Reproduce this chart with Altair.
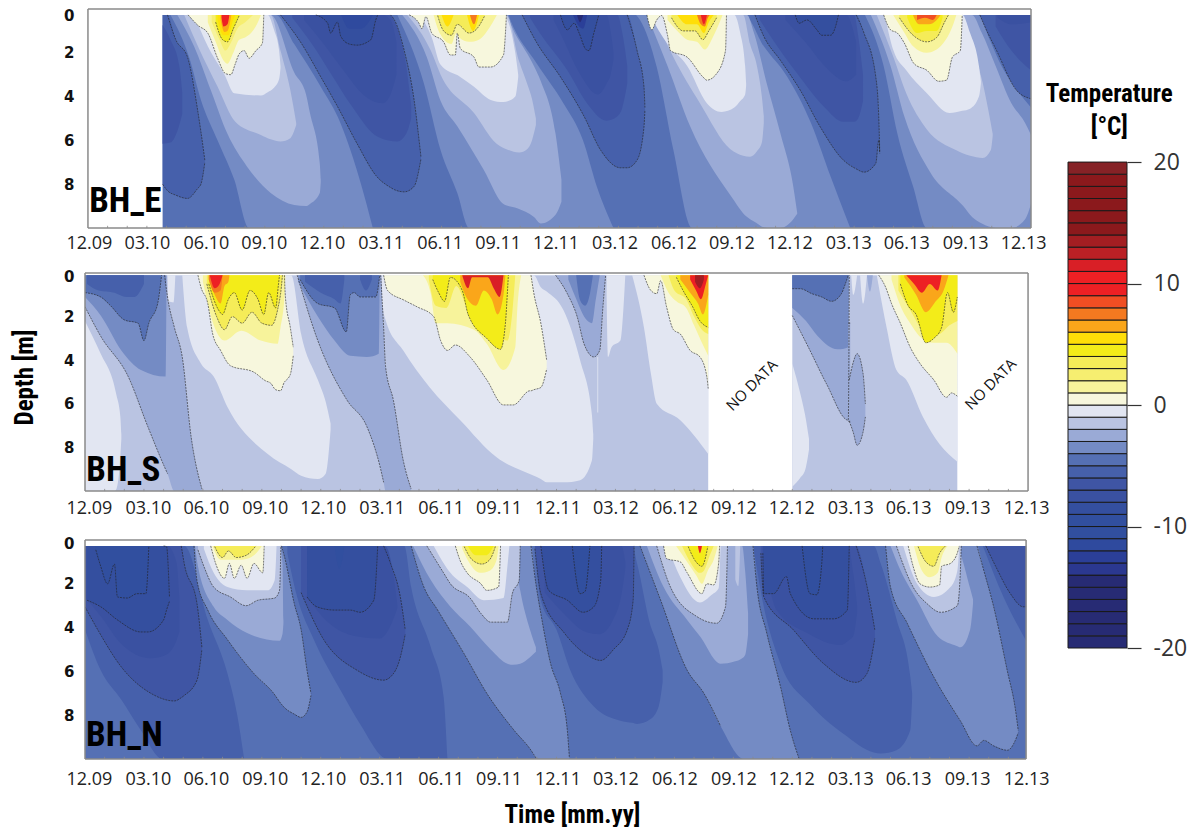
import json
import altair as alt
import pandas as pd

TICK_LABELS = ["12.09","03.10","06.10","09.10","12.10","03.11","06.11","09.11","12.11","03.12","06.12","09.12","12.12","03.13","06.13","09.13","12.13"]
E_LABEL_POS = [0.05,3.0,6.0,8.95,11.9,14.9,17.9,20.85,23.8,26.8,29.8,32.75,35.7,38.7,41.65,44.65,47.6]
SN_LABEL_POS = [0.2,3.2,6.15,9.15,12.1,15.1,18.1,21.05,24.05,27,30,33,35.95,38.95,41.9,44.9,47.9]
E_DEPTH_POS = [0.3,2,4,6,8]
SN_DEPTH_POS = [0.18,2,4,6,8]
MONTHS = list(range(1,48))

# colour of each 1-degree class, from -20 upward
CLASS_COLORS = ["#272b74","#272b74","#272b74","#272b74","#272b74","#272b74","#2b3890","#2b3f98","#2f4a9e","#314f9f",
 "#314f9f","#344f9f","#3a51a1","#3f55a4","#4660ab","#5570b4","#748bc4","#9aaad6","#bac4e2","#e2e6f2",
 "#f7f7dd","#f7f39b","#f6ee70","#f5ec58","#f3ec19","#ffde08","#faa61a","#f47920","#f04e23","#ed2024",
 "#ed2024","#d91f26","#bb2025","#a31e22","#8b191c","#8b191c","#8b191c","#8b191c","#8b191c","#862226"]

# (class lower bound, outlined, [(month, upper depth, lower depth), ...]) in painting order
E_REGIONS = [
(-5,0,[(3.8,.27,10),(48,.27,10)]),
(-4,0,[(4.2,.27,.27),(5.15,.27,2.2),(5.75,.27,4.15),(6.6,.27,6),(7.45,.27,7.8),(8.2,.27,10),(9.56,.27,10),(10.5,1.6,10),(11.85,3.55,10),(12.85,5.2,10),(13.9,8,10),(14.5,10,10)]),
(-3,0,[(4.55,.27,.27),(5.4,.27,1.7),(6.25,.27,3.7),(7.1,.27,5.7),(8.1,.27,7.2),(9.3,.27,8.4),(10.5,2.9,8.95),(11.1,3.9,9),(11.3,4.75,8.9),(11.8,7.05,8.4),(11.85,7.8,7.9)]),
(-2,0,[(4.9,.27,.27),(5.65,.27,1.8),(6.6,.27,3.55),(7.5,.27,5.15),(8.8,.27,5.75),(9.3,.27,5.95),(9.8,1.9,6.05),(10.3,3.7,5.9),(10.6,5.2,5.3)]),
(-1,0,[(5.4,.27,.27),(6.1,.27,1.7),(6.95,.27,3),(7.45,.27,3.85),(8.8,.27,3.95),(9.15,.27,3.8),(9.47,.95,3.6),(9.73,1.9,3.2),(9.8,2.6,2.7)]),
(0,1,[(5.1,.27,.27),(5.6,.27,.75),(6.1,.27,1.1),(6.6,.27,2.25),(7.0,.27,2.95),(7.27,.27,3),(7.5,.27,2.5),(7.7,.27,2.05),(7.95,.27,1.9),(8.2,.27,2.25),(8.55,.27,1.9),(8.88,.27,1.55),(8.95,.27,.27)]),
(1,0,[(6.1,.27,.6),(6.5,.27,1.5),(6.9,.27,2.35),(7.1,.27,2.5),(7.4,.27,2),(7.7,.27,1.4),(8,.27,1.3),(8.3,.27,1.1),(8.6,.27,.7),(8.8,.27,.27)]),
(2,0,[(6.3,.27,.6),(6.7,.27,1.4),(7,.27,1.9),(7.3,.27,1.5),(7.6,.27,.9),(8,.27,.6),(8.4,.27,.27)]),
(4,1,[(6.5,.27,.6),(6.85,.27,1.4),(7.1,.27,1.5),(7.4,.27,.9),(7.7,.27,.3)]),
(5,0,[(6.6,.27,.5),(6.9,.27,1.2),(7.15,.27,1.2),(7.35,.27,.6),(7.5,.27,.27)]),
(6,0,[(6.75,.27,.5),(6.95,.27,1.05),(7.1,.27,1),(7.3,.27,.27)]),
(9,0,[(6.8,.27,.4),(6.9,.27,.8),(7.1,.27,.7),(7.2,.27,.27)]),
(-6,1,[(3.8,.27,8),(4.05,.27,8.3),(4.47,1.4,8.5),(5.07,2.2,8.65),(5.58,4.6,8.2),(5.75,5.6,8),(5.95,6.9,7)]),
(-7,0,[(3.8,.73,6.15),(4.2,1.4,6.1),(4.65,2.6,5.3),(4.8,3.8,4.8)]),
(-6,1,[(9.8,.27,.27),(10.85,.27,1.55),(11.85,.27,3.1),(12.7,.27,4.45),(13.7,.27,6.15),(14.7,.27,7.65),(15.4,.27,8.15),(15.6,.5,8.25),(16.1,1.9,8.35),(16.6,4.15,8.1),(16.95,6.75,6.85)]),
(-7,0,[(10.4,.27,.4),(11.4,.27,1.6),(12.4,.27,3),(13.4,.27,4.4),(14.6,.27,5.75),(15.3,.27,6),(15.75,.9,6.05),(16.2,2.6,5.7),(16.45,4.4,5)]),
(-8,0,[(11,.27,.5),(12,.27,1.6),(13,.27,2.8),(14,.27,3.9),(15,.27,4.3),(15.4,.5,3.9),(15.7,1.5,3)]),
(-9,1,[(11.6,.27,.27),(12.2,.27,.65),(12.35,.27,1.1),(12.7,.27,.6),(12.87,.27,1.25),(13.3,.27,1.6),(13.7,.27,1.65),(14.4,.27,1.4),(14.65,.27,.5),(14.75,.27,.27)]),
(-12,0,[(12.9,.27,.3),(13.3,.27,.9),(13.9,.27,.9),(14.5,.27,.3)]),
(-4,0,[(15.75,.27,.27),(17.1,.27,3.4),(17.95,.27,6.45),(18.8,.27,8.4),(19.4,.27,10),(21.4,.27,10),(21.5,.5,10),(22.85,2.5,10),(24.2,4.3,10),(25.2,6,10),(25.9,8.1,10),(26.75,10,10)]),
(-3,0,[(16,.27,.27),(17.25,.27,2.2),(17.95,.27,4.2),(18.8,.27,5.35),(20.15,.27,7.35),(21.15,.27,8.9),(21.85,1.3,9.1),(22.7,2.6,9.5),(23.05,3.3,9.8),(23.8,5.7,9.4),(24.1,7.8,8.8)]),
(-2,0,[(16.25,.27,.27),(17.45,.27,1.9),(17.95,.27,3),(19.65,.27,4.75),(20.8,.27,6.15),(21.3,.27,6.4),(21.95,2.4,6.55),(22.35,3.4,6.4),(22.6,4.1,6),(22.8,5,5.3)]),
(-1,0,[(16.9,.27,.27),(17.5,.27,1.3),(17.95,.27,2.55),(18.95,.27,3.1),(19.65,.27,3.55),(20.5,.27,4.15),(21.15,.27,4.25),(21.4,.6,4.2),(21.75,2,4),(21.9,3,3.1)]),
(0,1,[(16.35,.27,.27),(16.85,.27,.65),(17,.27,.9),(17.2,.27,.35),(17.5,.27,1.1),(18.1,.27,1.5),(18.45,.27,2.1),(18.7,.27,2.1),(18.8,.27,1.1),(18.95,.27,1.8),(19.65,.27,2.2),(19.9,.27,2.65),(20.5,.27,2.65),(21.15,.27,2.1),(21.25,.27,1.1),(21.3,.27,.27)]),
(1,0,[(17.6,.27,.3),(17.9,.27,1.1),(18.5,.27,1.6),(18.75,.27,1.1),(18.9,.27,1.3),(19.4,.27,1.5),(19.9,.27,1.4),(20.4,.27,.9),(20.8,.27,.3)]),
(3,1,[(17.8,.27,.3),(18.1,.27,1),(18.5,.27,1.2),(18.8,.27,.7),(19.4,.27,1.1),(19.8,.27,.9),(20.2,.27,.3)]),
(5,0,[(18.0,.27,.27),(18.3,.27,.8),(18.6,.27,.3)]),
(5,0,[(19.3,.27,.3),(19.6,.27,1),(19.9,.27,.3)]),
(7,0,[(19.45,.27,.3),(19.65,.27,.7),(19.8,.27,.3)]),
(-6,1,[(22.1,.27,.27),(22.85,.27,1.55),(24.05,.27,3.1),(25.25,.27,4.9),(26.1,.27,6.45),(27.1,.27,7.25),(27.45,.27,7.25),(27.95,1.9,6.9),(28.3,3.55,5.4),(28.35,4.5,4.6)]),
(-7,0,[(22.5,.27,.4),(23,.27,1.1),(24.4,.27,2.8),(25.4,.27,4.3),(26.4,.27,5.1),(26.95,.27,4.9),(27.2,1.1,4.5),(27.45,2.6,3.4)]),
(-8,0,[(23.7,.27,.5),(24.2,.27,1.4),(25,.27,2.9),(25.95,.27,3.9),(26.4,.27,3.4),(26.6,1,3),(26.75,2,2.3)]),
(-9,1,[(24.05,.27,.27),(24.4,.27,.95),(24.75,.27,.65),(25,.27,1.1),(25.35,.27,1.85),(25.5,.27,1.9),(25.75,.27,1.1),(26,.27,.27)]),
(-13,0,[(24.7,.27,.3),(25,.27,.8),(25.2,.27,.9),(25.4,.27,.3)]),
(-18,0,[(24.9,.27,.3),(25.05,.27,.6),(25.2,.27,.3)]),
(-4,0,[(27.9,.27,.27),(28.1,.27,.5),(28.95,.27,2.65),(29.8,.27,6.45),(30.75,.27,10),(33.4,.27,10),(34.4,1.7,10),(35.6,3.1,10),(36.8,5.2,10),(37.8,7.65,10),(38.8,10,10)]),
(-3,0,[(28.45,.27,.27),(29.5,.27,2.6),(30.65,.27,5.35),(32.7,.27,8.5),(33.55,.27,9.5),(33.9,1.1,9.7),(34.55,3.4,10),(35.25,5.7,10),(35.9,8.1,9.6),(36.1,9.3,9.35)]),
(-2,0,[(28.8,.27,.27),(29.8,.27,2.2),(31.15,.27,4.3),(32.7,.27,6.4),(33.35,.27,6.7),(33.7,1.6,6.75),(34.05,2.6,6.5),(34.3,4,6.1),(34.4,4.9,5.2)]),
(-1,0,[(28.6,.27,.27),(29.5,.27,1.6),(30.5,.27,2.6),(31.5,.27,4.3),(32.25,.27,4.7),(32.9,.27,4.5),(33.2,1.1,4.2),(33.45,2.6,3.9),(33.5,3.4,3.5)]),
(0,1,[(28.45,.27,.27),(28.7,.27,.95),(28.95,.27,.5),(29.2,.27,.3),(29.5,.27,1.2),(29.65,.27,1.9),(30.5,.27,2.2),(31.3,.27,3.1),(31.5,.27,3.25),(32,.27,2.95),(32.45,.27,1.9),(32.5,.27,.27)]),
(1,0,[(29.5,.27,.5),(30,.27,1),(30.5,.27,1.4),(31,.27,1.5),(31.4,.27,1.85),(31.8,.27,1.3),(32.2,.27,.5),(32.3,.27,.27)]),
(3,1,[(29.7,.27,.4),(30.3,.27,1),(30.9,.27,1),(31.3,.27,1.4),(31.6,.27,1),(32,.27,.4)]),
(5,0,[(30,.27,.27),(30.5,.27,.7),(31,.27,.7),(31.35,.27,1.1),(31.6,.27,.6),(31.85,.27,.27)]),
(7,0,[(31,.27,.27),(31.2,.27,.7),(31.4,.27,.8),(31.55,.27,.4),(31.65,.27,.27)]),
(9,0,[(31.2,.27,.3),(31.35,.27,.7),(31.5,.27,.3)]),
(-6,1,[(33.95,.27,.27),(34.4,.27,1.25),(35.25,.27,2.35),(36.25,.27,3.7),(37.25,.27,5.35),(38.45,.27,6.9),(39.1,.27,7.3),(39.5,1.1,7.45),(40.1,3.1,7.05),(40.25,4.9,6),(40.3,6.5,6.6)]),
(-7,0,[(34.2,.27,.5),(34.75,.27,1.25),(36.1,.27,2.95),(37.45,.27,4.45),(38.45,.27,5.15),(39,.27,5.15),(39.2,1.2,5),(39.45,3,4.2)]),
(-8,0,[(35.5,.27,.5),(36.5,.27,1.5),(37.5,.27,2.6),(38.6,.27,3.3),(39.1,1.5,3)]),
(-9,1,[(36,.27,.27),(36.2,.27,.65),(36.6,.27,.5),(37.1,.27,.95),(37.35,.27,1.2),(37.8,.27,1.2),(38.1,.27,.65),(38.2,.27,.27)]),
(-4,0,[(39.55,.27,.27),(40.5,.27,2.6),(41.2,.27,5.7),(42,.27,8.1),(42.7,.27,10),(45.3,.27,10),(45.9,1.4,10),(46.5,2.6,10),(47.2,3.6,10),(48,4.5,10)]),
(-3,0,[(39.85,.27,.27),(40.85,.27,2.6),(41.55,.27,4.9),(42.9,.27,7.5),(44.55,.27,9),(45,.27,9.5),(45.5,1.1,9.8),(46.2,2.6,10),(47,4.3,10),(47.7,5.2,9.6),(48,5.75,8.9)]),
(-2,0,[(40.15,.27,.27),(41,.27,2.2),(41.65,.27,3.85),(42.7,.27,5.5),(44.2,.27,6.45),(44.55,.27,6.6),(44.9,1.4,6.7),(45.55,3.4,6.8),(45.95,5.2,6.45),(46.05,5.7,5.8)]),
(-1,0,[(40.55,.27,.27),(41,.27,1.9),(41.65,.27,2.8),(42.7,.27,3.85),(43.85,.27,4.75),(44.5,.27,4.65),(44.9,1.1,4.55),(45.35,2.6,4),(45.45,3.3,3.4)]),
(0,1,[(40.5,.27,.27),(40.85,.27,.95),(41.2,.27,1.1),(41.55,.27,1.55),(42.05,.27,2.5),(42.7,.27,2.8),(43.3,.27,3.3),(43.7,.27,3.25),(44,.27,2.2),(44.4,.27,1.9),(44.5,.27,.27)]),
(1,0,[(41,.27,.3),(41.5,.27,1),(42,.27,1.7),(42.7,.27,2),(43.1,.27,1.9),(43.5,.27,1.6),(44,.27,.8),(44.2,.27,.27)]),
(3,1,[(41.3,.27,.4),(42,.27,1.2),(42.7,.27,1.5),(43.2,.27,1.3),(43.6,.27,.6),(43.8,.27,.27)]),
(4,0,[(41.7,.27,.4),(42.2,.27,1.1),(42.7,.27,1),(43.2,.27,1),(43.5,.27,.4)]),
(6,0,[(42,.27,.3),(42.3,.27,.7),(42.8,.27,.7),(43.2,.27,.5),(43.4,.27,.27)]),
(8,0,[(42.2,.27,.5),(42.6,.27,.4),(43,.27,.5),(43.2,.27,.27)]),
(-6,1,[(45.4,.27,.27),(45.65,.27,.8),(46.25,.27,1.9),(47.25,.27,3.7),(48,.27,4.1)]),
(-7,0,[(46.2,.27,.8),(47,.27,1.9),(48,.27,2.8)]),
(-8,0,[(46.3,.27,.4),(47,.27,.7),(48,.27,.6)]),
]

S_REGIONS = [
(-2,0,[(0,.1,10),(31.72,.1,10)]),
(-2,0,[(36,.1,10),(44.4,.1,10)]),
(-1,0,[(0,2.2,10),(.8,3.7,10),(1.5,5.2,10),(1.6,5.6,9.9),(1.8,6.6,8.4),(1.85,7.4,7.6)]),
(-3,1,[(0,.1,1.55),(.8,.1,2.9),(2.2,.1,4.75),(3.2,.1,7.05),(4.05,.1,8.9),(4.2,1.1,9.2),(4.55,2.5,10),(4.95,3.85,10),(5.4,7.5,10),(5.95,9.9,10)]),
(-4,0,[(0,.1,1.1),(.8,.1,1.95),(1.85,.1,3.55),(2.85,.1,4.45),(4.1,.1,4.75),(4.15,.1,.1)]),
(-5,1,[(0,.1,.9),(.8,.1,1.1),(1.3,.1,1.5),(2,.1,2.15),(2.7,.1,2.3),(3,.1,3.1),(3.25,.1,2.3),(3.7,.1,1.4),(3.9,.1,.1)]),
(-6,0,[(.1,.1,.5),(.7,.1,.8),(1.5,.1,.9),(2.1,.1,1.1),(2.5,.1,1.1),(3,.1,.5)]),
(-1,0,[(4.2,.1,.1),(4.25,.1,1.3),(4.5,.1,1.35),(4.6,.1,.1)]),
(-1,0,[(4.95,.1,.1),(5.2,.1,2.5),(5.9,.1,4.15),(6.55,.1,4.75),(7.25,.1,6.15),(9.3,.1,8.3),(10.5,.1,9),(11,2.8,9.3),(11.85,4.9,9.45),(12.25,5.9,9.2),(12.5,6.9,7.2)]),
(0,1,[(5.75,.1,.1),(5.9,.1,.65),(6.25,.1,1.4),(6.5,.1,2.8),(6.9,.1,3.55),(7.4,.1,4.25),(8.6,.1,4.55),(9.2,.1,4.95),(9.45,.1,5.05),(9.7,.1,5.35),(9.95,.1,5.4),(10.15,.1,5),(10.2,1.1,4.95),(10.45,2.5,4.65),(10.6,3.4,3.8)]),
(1,0,[(6,.1,.4),(6.6,.1,2.5),(7.1,.1,3.1),(7.95,.1,2.65),(8.95,.1,3.1),(9.8,.1,3.25),(9.95,.1,2.5),(10.15,.1,1.1),(10.2,.1,.1)]),
(3,1,[(6.2,.1,.5),(6.7,.1,2),(7.1,.1,2.6),(7.5,.1,2),(8,.1,2.3),(8.5,.1,1.8),(9,.1,2.3),(9.5,.1,2.4),(9.8,.1,1.7),(10,.1,.6),(10.05,.1,.1)]),
(4,1,[(6.3,.1,.5),(6.8,.1,1.7),(7,.1,1.9),(7.3,.1,1.2),(7.6,.1,.9),(8,.1,1.7),(8.4,.1,.8),(8.8,.1,1.2),(9.1,.1,1.9),(9.35,.1,.9),(9.7,.1,1.6),(9.85,.1,.5),(9.9,.1,.1)]),
(6,0,[(6.3,.1,.3),(6.6,.1,1),(6.9,.1,1.4),(7.1,.1,.6),(7.3,.1,.4),(7.35,.1,.1)]),
(7,0,[(6.3,.1,.3),(6.6,.1,.9),(6.9,.1,.8),(7,.1,.1)]),
(9,0,[(6.35,.1,.1),(6.6,.1,.7),(6.85,.1,.5),(7,.1,.1)]),
(-3,1,[(10.8,.1,.1),(11.85,.1,3.1),(13.35,.1,5.85),(14.35,.1,7.05),(15.05,.1,9),(15.2,2.5,9.6),(15.3,4.3,10),(15.7,5.85,10),(16.2,8.6,10),(16.6,9.9,10)]),
(-4,0,[(10.85,.1,.4),(11.85,.1,2),(12.7,.1,3.1),(13.5,.1,3.8),(14.35,.1,3.85),(14.95,.1,3.7),(15,.1,.1)]),
(-5,1,[(10.95,.1,.3),(11.85,.1,1.4),(12.7,.1,1.6),(13.3,.1,2.7),(13.5,.1,1),(13.7,.1,.9),(14,.1,1.1),(14.8,.1,1.1),(15,.1,.1)]),
(-6,0,[(11.2,.1,.4),(12,.1,.9),(12.7,.1,1.2),(13,.1,1.4),(13.2,.1,.3)]),
(-6,0,[(14,.1,.3),(14.3,.1,.8),(14.6,.1,.3)]),
(-1,0,[(15.1,.1,.1),(15.15,.1,1.5),(15.3,.1,2.15),(16.2,.1,3.55),(17.55,.1,5.25),(19.1,.1,6.75),(20.95,.1,8.45),(22.85,.1,9.3),(23.2,.65,9.45),(23.5,.85,9.6),(24.35,1.7,9.6),(25.2,4,9.5),(25.8,6.5,8.6),(25.87,7.4,7.6)]),
(0,1,[(15.2,.1,.1),(15.4,.1,.8),(16.25,.1,1.25),(16.9,.1,1.55),(17.75,.1,2),(18.1,.1,3.1),(18.45,.1,3.55),(18.85,.1,3.3),(19.6,.1,3.85),(20.45,.1,4.9),(21.3,.1,6.05),(21.8,.1,6.05),(22.65,.1,5.4),(22.7,.1,5.4),(22.85,.95,5.35),(23.2,2.3,5.25),(23.5,4,4.4)]),
(1,0,[(17.2,.1,.1),(17.6,.1,.95),(17.85,.1,2.3),(18.45,.1,2.3),(19.8,.1,2.6),(20.45,.1,3.25),(21.3,.1,4.45),(21.9,.1,3.4),(22,.1,1.7),(22.2,.1,.1)]),
(3,0,[(17.5,.1,.3),(17.85,.1,1.5),(18.4,.1,1.6),(18.9,.1,.6),(19.4,.1,1.5),(20,.1,2.1),(20.5,.1,2.5),(21,.1,2.9),(21.5,.1,3.1),(21.75,.1,1.8),(21.9,.1,.1)]),
(4,1,[(17.7,.1,.3),(18,.1,.9),(18.3,.1,1.3),(18.6,.1,.2),(19.2,.1,.8),(19.5,.1,1.9),(20.45,.1,3),(21.15,.1,3.5),(21.4,.1,2.3),(21.5,.1,.9),(21.55,.1,.1)]),
(6,0,[(19.1,.1,.4),(19.4,.1,1.1),(19.9,.1,1.5),(20.3,.1,.8),(20.7,.1,1.2),(21,.1,1.9),(21.3,.1,1),(21.4,.1,.1)]),
(11,0,[(19.2,.1,.1),(19.5,.1,.7),(19.7,.1,.2),(20.5,.1,.2),(20.8,.1,.7),(21.1,.1,1.1),(21.3,.1,.1)]),
(-3,1,[(23.95,.1,.1),(24.55,.1,.95),(25.05,.1,2),(25.4,.1,3.25),(25.9,.1,3.85),(26.2,.1,3.55),(26.35,.1,1.7),(26.5,.1,.1)]),
(-4,0,[(24.6,.1,.3),(25.05,.1,1.3),(25.4,.1,2),(25.8,.1,2.3),(26,.1,1.2),(26.2,.1,.1)]),
(-5,0,[(25,.1,.1),(25.2,.1,1.25),(25.45,.1,1.5),(25.7,.1,.95),(25.85,.1,.1)]),
(-1,0,[(26.55,.1,1),(26.62,.1,3.85),(26.8,.1,3.4),(27.25,.1,3.1),(27.4,.1,1.7),(27.5,.1,.1)]),
(-1,0,[(26.08,3.85,6.4),(26.12,3.85,6.4)]),
(-1,0,[(27.85,.1,.1),(28.45,.1,2.5),(28.8,.1,4.6),(29.1,.1,6),(30.3,.1,6.75),(31.72,.1,8.3)]),
(0,1,[(28.45,.1,.1),(28.8,.1,.8),(29.1,.1,.95),(29.3,.1,.35),(29.6,.1,1.55),(29.95,.1,2.6),(30.3,.1,2.8),(30.8,.1,3.55),(31.3,.1,3.85),(31.65,.1,4.75),(31.72,.1,5.3)]),
(1,0,[(29.3,.1,.1),(29.7,.1,.9),(30.1,.1,1.3),(30.6,.1,1.6),(31,.1,2.4),(31.4,.1,3.2),(31.72,.1,3.8)]),
(3,0,[(29.7,.1,.1),(30,.1,.8),(30.6,.1,1.2),(31,.1,2),(31.4,.1,2.6),(31.72,.1,2.8)]),
(4,1,[(30.1,.1,.2),(30.5,.1,.9),(30.9,.1,1.5),(31.3,.1,2.2),(31.72,.1,2.5)]),
(6,0,[(30.3,.1,.3),(30.8,.1,.9),(31.2,.1,1.4),(31.45,.1,1.9),(31.72,.1,1)]),
(9,0,[(30.8,.1,.3),(31.1,.1,.8),(31.35,.1,1.2),(31.6,.1,.5),(31.72,.1,.1)]),
(13,0,[(31.05,.1,.4),(31.3,.1,.7),(31.5,.1,.3)]),
(-1,0,[(36,4.15,9.8),(36.4,5.5,9.4),(36.65,6.5,9.05),(36.85,7.6,8.1)]),
(-3,1,[(36,.1,1.95),(36.9,.1,3.55),(37.75,.1,5.1),(38.85,.1,6.75),(38.9,.1,.1)]),
(-4,0,[(36,.1,1.6),(36.7,.1,2.2),(37.3,.1,2.9),(38.3,.1,3.5),(38.85,.1,3.4),(38.88,.1,.1)]),
(-5,1,[(36,.1,.72),(36.4,.1,.72),(37,.1,.95),(37.5,.1,1.1),(38,.1,1.3),(38.5,.1,.95),(38.7,.1,.5),(38.85,.1,.1)]),
(-3,1,[(38.9,4.9,6.8),(39.1,4.1,7.3),(39.3,3.7,7.9),(39.6,4.6,7.3),(39.72,6,6.6)]),
(-3,1,[(38.85,2.3,6.8),(38.95,2.3,6.8)]),
(-1,0,[(39,.1,.1),(39.1,.1,1),(39.3,.1,.1)]),
(-1,0,[(39.45,.1,.1),(39.6,.1,1.4),(39.8,.1,.1)]),
(-3,0,[(39.8,.1,.1),(39.95,.1,.85),(40.1,.1,.1)]),
(-1,0,[(40.3,.1,.1),(40.8,.1,2.5),(41.3,.1,4.45),(41.8,.1,4.9),(42.65,.1,6.6),(43.5,.1,7.85),(44.4,.1,8.65)]),
(0,1,[(40.4,.1,.1),(40.75,.1,.65),(41.05,.1,1.4),(41.5,.1,2.3),(42,.1,3.4),(42.5,.1,4.15),(43.2,.1,4.9),(43.85,.1,5.7),(44.1,.1,5.5),(44.4,.1,5.65)]),
(1,0,[(41.05,.1,.3),(41.5,.1,1.5),(42,.1,2.3),(42.6,.1,3),(43.2,.1,3.2),(43.85,.1,3.2),(44.4,.1,3.7)]),
(3,0,[(41.4,.1,.8),(42,.1,1.7),(42.6,.1,2.6),(43,.1,2.9),(43.5,.1,2.8),(44,.1,2.4),(44.4,.1,2.2)]),
(4,1,[(41.5,.1,.5),(41.9,.1,1.5),(42.3,.1,1.9),(42.8,.1,3.2),(43.2,.1,3),(43.6,.1,2.5),(43.9,.1,.9),(44.2,.1,1.8),(44.4,.1,1.1)]),
(6,0,[(41.7,.1,.2),(42.3,.1,1),(42.8,.1,1.8),(43.3,.1,1.3),(43.7,.1,.8),(43.95,.1,.1)]),
(9,0,[(41.8,.1,.1),(42.2,.1,.5),(42.6,.1,.9),(43,.1,.5),(43.4,.1,.8),(43.6,.1,.1)]),
]

N_REGIONS = [
(-5,0,[(0,.27,10),(47.9,.27,10)]),
(-6,0,[(0,.27,4.1),(.8,.27,5.95),(1.85,.27,7.3),(2.85,.27,8.7),(3.95,.27,10),(5.05,.27,10),(6.25,3.65,10),(7.25,6.1,10),(7.75,8,10),(8.1,10,10)]),
(-7,1,[(0,.27,3.05),(.65,.27,4.1),(1.85,.27,5.8),(3.35,.27,7),(4.55,.27,7.35),(4.9,.27,7.2),(5.05,1.07,7.1),(5.7,2.9,6.4),(5.95,4.9,5)]),
(-8,0,[(0,.27,2.6),(.9,.27,3.6),(1.8,.27,4.7),(3.35,.27,5.4),(4.2,.27,5.2),(4.65,1,4.6),(4.8,2.6,4.2)]),
(-9,1,[(.1,.27,2.75),(.8,.27,3.05),(1.65,.27,3.65),(2.85,.27,4.2),(3.2,.27,4.2),(4,.27,3.65),(4.15,.3,3.2),(4.3,2.6,2.8)]),
(-10,1,[(.55,.27,.45),(.8,.27,1.2),(1.15,.27,2),(1.5,.27,1.1),(1.65,.27,2.6),(2.15,.27,2.65),(2.65,.27,2.45),(3.1,.27,2.45),(3.25,.27,.27)]),
(-4,1,[(5.55,.27,.27),(5.7,.27,1.85),(6.25,.27,3.2),(7.25,.27,4.55),(8.6,.27,6.1),(9.6,.27,7),(10,.27,7.5),(10.15,.75,7.65),(10.65,2.9,7.95),(11,4.1,8.1),(11.3,5.95,7.85),(11.5,7,7.1)]),
(-3,0,[(5.6,.27,.27),(5.75,.27,1.2),(6.55,.27,3.05),(7.25,.27,3.65),(8.25,.27,4.25),(9.9,.27,4.6),(10.05,1,4.3),(10.1,3.7,3.8)]),
(-2,1,[(5.75,.27,.45),(6.05,.27,1.2),(6.55,.27,2.15),(7.4,.27,2.6),(8.2,.27,3),(8.8,.27,2.75),(9.65,.27,2.65),(9.9,.27,2.3),(9.97,.27,.27)]),
(-1,0,[(6.05,.27,.4),(6.55,.27,1.5),(7.25,.27,2.15),(8.25,.27,2.3),(9.3,.27,2.3),(9.65,.27,1.85),(9.75,.27,.27)]),
(0,1,[(6.4,.27,.27),(6.65,.27,1.07),(7.1,.27,1.75),(7.35,.27,1.07),(7.6,.27,1.75),(7.95,.27,1.15),(8.25,.27,1.75),(8.6,.27,1.07),(9.05,.27,1.5),(9.12,.27,.27)]),
(1,0,[(6.5,.27,.3),(6.9,.27,.9),(7.4,.27,.9),(8,.27,.9),(8.6,.27,.7),(9,.27,.27)]),
(3,1,[(6.6,.27,.3),(7,.27,.8),(7.3,.27,.5),(7.7,.27,.8),(8.2,.27,.7),(8.7,.27,.27)]),
(-6,0,[(10.3,.27,.6),(10.8,.27,2.6),(11.65,.27,4.55),(13,.27,6.85),(14,.27,8.4),(15.4,.27,10),(16.25,.27,10),(16.6,2.15,10),(17.6,4.9,10),(18.25,7.15,10),(18.45,10,10)]),
(-7,1,[(11,.27,2.4),(12.15,.27,4.55),(13.85,.27,5.95),(15.2,.27,6.4),(15.55,1.07,6.25),(16.05,2.6,5.35),(16.3,4.1,4.3)]),
(-8,0,[(11.3,.27,2.6),(12.3,.27,3.7),(13.8,.27,4.4),(15,.27,4.5),(15.3,.3,4.3),(15.7,1.6,3.6),(15.9,3,3.1)]),
(-9,1,[(11.3,.27,2.6),(11.8,.27,3.05),(12.7,.27,3.2),(13.5,.27,3.2),(14,.27,3.3),(14.7,.27,2.75),(14.9,.27,.27)]),
(-10,0,[(12.7,.27,.27),(12.95,.27,1.3),(13.2,.27,.27)]),
(-4,1,[(16.6,.27,.27),(17.25,.27,2.15),(17.95,.27,3.2),(19.3,.27,5.2),(20.45,.27,7),(21.85,.27,8.7),(22.7,.27,9.6),(22.95,2,9.95),(23.2,3.35,10),(23.7,5.65,10),(24.2,7,10),(24.55,8.7,10),(24.65,9.9,10)]),
(-3,0,[(16.7,.27,.27),(17.6,.27,1.83),(18.6,.27,3.05),(19.6,.27,3.95),(20.65,.27,5),(21.5,.27,5.65),(21.8,.27,5.7),(22.15,2.3,5.65),(22.65,4.1,5.35),(22.95,4.9,5.1)]),
(-2,1,[(17.4,.27,.27),(18.25,.27,1.5),(18.6,.27,2),(19.6,.27,2.65),(20.15,.27,3.35),(20.65,.27,3.75),(21.5,.27,3.75),(21.75,.27,2.45),(22.1,.27,1.83),(22.15,.27,.27)]),
(-1,0,[(17.75,.27,.27),(18.6,.27,1.5),(19.45,.27,2.15),(20.3,.27,2.75),(21.3,.27,2.65),(21.5,.27,1.2),(21.6,.27,.27)]),
(0,1,[(18.85,.27,.27),(19.1,.27,.95),(19.45,.27,1.5),(20.15,.27,2),(20.45,.27,2.3),(21.05,.27,2.15),(21.15,.27,.27)]),
(1,0,[(19.2,.27,.4),(19.6,.27,1.1),(20.1,.27,1.5),(20.6,.27,1.4),(20.95,.27,.9),(21.05,.27,.27)]),
(3,1,[(19.3,.27,.3),(19.7,.27,.9),(20.2,.27,1.1),(20.6,.27,.9),(20.9,.27,.27)]),
(4,0,[(19.5,.27,.3),(19.9,.27,.7),(20.4,.27,.7),(20.8,.27,.27)]),
(-6,0,[(22.95,.27,.6),(23.2,.27,2.75),(24,.27,4.1),(24.7,.27,5.95),(25.9,.27,7.6),(27.25,.27,8.25),(27.85,.27,8.35),(28.1,1.07,8.4),(28.75,3.8,8.2),(29.2,5,7.6),(29.4,5.95,6.5)]),
(-7,1,[(22.9,.27,.4),(23.2,.27,2.45),(24.4,.27,4.25),(25.55,.27,5.25),(26.25,.27,5.5),(26.9,.27,5),(27.6,.27,4.1),(27.9,.27,2.75),(27.95,.27,.27)]),
(-8,0,[(23.4,.27,2.4),(24.3,.27,3.3),(25.5,.27,4.2),(26.2,.27,4.3),(26.9,.27,3.6),(27.3,.27,2.5),(27.5,1,1.3)]),
(-9,1,[(23.2,.27,.27),(23.6,.27,2.3),(24.55,.27,2.75),(25.35,.27,3.3),(25.9,.27,3.05),(26.25,.27,1.83),(26.3,.27,.27)]),
(-10,1,[(24.8,.27,.27),(25.2,.27,2.45),(25.45,.27,2.35),(25.7,.27,.27)]),
(-4,1,[(28.25,.27,.27),(29.3,.27,2.75),(30.65,.27,5.95),(31.5,.27,7),(32.35,.27,8.5),(33.55,.27,10),(34,.27,10),(34.2,2.15,10),(34.7,4.25,10),(35.4,6.7,10),(35.9,8.7,10),(36.35,10,10)]),
(-3,0,[(28.6,.27,.27),(29.45,.27,2.15),(30.65,.27,3.65),(31.3,.27,4.4),(32.35,.27,5.65),(33.05,.27,5.55),(33.45,.27,5.4),(33.6,1.4,5.25),(33.75,3.35,4.3)]),
(-2,1,[(29.1,.27,.27),(29.8,.27,2.15),(31.15,.27,3.5),(32.15,.27,3.8),(32.6,.27,3.05),(32.7,.27,.27)]),
(-2,0,[(33.1,.27,1.8),(33.25,.27,2.1),(33.35,.27,.27)]),
(-1,0,[(29.65,.27,.27),(30.3,.27,1.7),(31.3,.27,2.85),(31.9,.27,2.5),(32.25,.27,2.2),(32.35,.27,.27)]),
(0,1,[(29.45,.27,.27),(29.6,.27,.85),(30.3,.27,1),(30.65,.27,1.5),(31.4,.27,2.45),(31.65,.27,2),(32,.27,2.05),(32.25,.27,1.07),(32.3,.27,.27)]),
(1,0,[(30.1,.27,.3),(30.65,.27,1),(31.1,.27,1.6),(31.4,.27,2),(31.7,.27,1.4),(32,.27,.9),(32.2,.27,.27)]),
(3,0,[(30.4,.27,.3),(30.8,.27,1),(31.3,.27,1.5),(31.5,.27,1.4),(31.8,.27,.7),(32,.27,.27)]),
(4,1,[(30.7,.27,.3),(31.1,.27,1),(31.4,.27,1.2),(31.7,.27,.3)]),
(9,0,[(31.2,.27,.3),(31.3,.27,.6),(31.4,.27,.3)]),
(-6,0,[(34.05,.27,.5),(34.45,.27,2.6),(35.4,.27,5.65),(36.9,.27,7.5),(38.6,.27,8.85),(40.15,.27,9.7),(40.5,1.07,9.75),(41.3,3.6,9.6),(42,6.2,8.7),(42.1,7,7.2)]),
(-7,1,[(34.4,.27,.6),(34.55,.27,2.6),(36.05,.27,4.1),(37.6,.27,5.65),(39.25,.27,6.5),(39.8,2.1,6.1),(40.2,4.1,4.5)]),
(-8,0,[(34.6,.27,1),(35.2,.27,3.2),(36.75,.27,4.25),(38.45,.27,4.8),(38.85,.27,4.6),(39.1,1.5,4.4),(39.3,3,3.3)]),
(-9,1,[(34.5,.27,.6),(34.55,.27,2.45),(35.05,.27,2.45),(35.7,.27,1.67),(35.9,.27,2.45),(37.1,.27,3.6),(38.1,.27,3.6),(38.8,.27,3.2),(38.9,.27,.27)]),
(-10,1,[(36.5,.27,.27),(36.9,.27,2.45),(37.25,.27,2.5),(37.5,.27,1.07),(37.55,.27,.27)]),
(-4,1,[(40.75,.27,.27),(41,.27,2.15),(41.85,.27,3.8),(43.2,.27,6.25),(44.55,.27,8.25),(45.4,.27,9.4),(45.75,1.4,9.15),(46.25,3.05,9.4),(46.95,6,9.6),(47.35,7.7,9.15),(47.5,8.7,8.8)]),
(-3,0,[(41,.27,.27),(41.5,.27,1.37),(42.35,.27,2.75),(43.4,.27,4.4),(44.4,.27,4.85),(44.55,.6,4.9),(45.05,2.2,4.1),(45.2,2.7,2.9)]),
(-2,1,[(41.3,.27,.27),(42.15,.27,2.15),(42.85,.27,2.9),(43.55,.27,3.3),(44.4,.27,3),(44.55,.27,1.5),(44.6,.27,.27)]),
(-1,0,[(41.65,.27,.27),(42.35,.27,2),(43.2,.27,2.6),(44.05,.27,2.15),(44.4,.27,1.4),(44.5,.27,.27)]),
(0,1,[(41.9,.27,.27),(42.15,.27,1.2),(42.5,.27,2),(43,.27,2.15),(43.5,.27,2.05),(43.6,.27,1.2),(44.05,.27,1.07),(44.45,.27,.45),(44.5,.27,.27)]),
(1,0,[(42.2,.27,.3),(42.6,.27,1.4),(43,.27,1.7),(43.4,.27,1.5),(43.6,.27,.8),(43.9,.27,.27)]),
(3,1,[(42.4,.27,.3),(42.8,.27,1),(43.2,.27,1.2),(43.5,.27,.6),(43.8,.27,.27)]),
(-6,0,[(45.7,.27,.27),(46.75,.27,2.6),(47.9,.27,4.6)]),
(-7,1,[(45.85,.27,.27),(46.35,.27,1.2),(47.1,.27,2.45),(47.75,.27,3.05),(47.9,.27,3.05)]),
]

PANEL_NAMES = ["BH_E","BH_S","BH_N"]
NO_DATA = [(33.95,5.15),(46.1,5.1)]
COLORBAR_TICKS = [-20,-10,0,10,20]
FONT = "Open Sans"
NARROW = "'Roboto Condensed','Open Sans Condensed','Noto Sans Condensed','DejaVu Sans Condensed',Roboto,sans-serif"


def band_color(t):
    return CLASS_COLORS[t + 20]


def build(regions, surface):
    areas, lines = [], []
    for i, (t, outlined, pts) in enumerate(regions):
        for x, a, b in pts:
            areas.append({"r": i, "x": x, "a": a, "b": b, "c": band_color(t)})
        if outlined:
            low = [(x, b) for x, a, b in pts if b < 9.99]
            for x, y in low:
                lines.append({"r": f"b{i}", "x": x, "y": y})
            idx = [k for k, p in enumerate(pts) if p[1] > surface + .001]
            if idx:
                for x, a, b in pts[max(idx[0] - 1, 0):]:
                    lines.append({"r": f"t{i}", "x": x, "y": a})
    return pd.DataFrame(areas), pd.DataFrame(lines)


def panel(regions, surface, name, name_x, name_y, xdom, ymax, height, frame_r, label_pos, depth_pos, pad, ytitle=None, xtitle=None, notes=None):
    adf, ldf = build(regions, surface)
    xs = alt.Scale(domain=xdom, nice=False, zero=False)
    ys = alt.Scale(domain=[0, ymax], reverse=True, nice=False, zero=False)
    expr = json.dumps(TICK_LABELS) + "[round(datum.value/2.98)]"
    xax = alt.Axis(values=label_pos, labelExpr=expr, ticks=False, domain=False, grid=False, labelFont=FONT,
                   labelFontSize=18, labelColor="#222", labelPadding=pad, labelOverlap=False, labelFlush=False, labelBound=False,
                   titleFont=NARROW, titleFontSize=25, titleFontWeight="bold", titleColor="#000", titleX=487, titleY=43)
    yax = alt.Axis(values=depth_pos, labelExpr="round(datum.value)", ticks=False, domain=False, grid=False,
                   labelFont="DejaVu Sans", labelFontWeight="bold", labelFontSize=15, labelColor="#111", labelPadding=11,
                   titleFont=NARROW, titleFontSize=25, titleFontWeight="bold", titleColor="#000", titlePadding=26, titleY=104)
    px = alt.X("x:Q", scale=xs, title=xtitle)
    py = alt.Y("y:Q", scale=ys, title=ytitle)
    areas = alt.Chart(adf).mark_area(interpolate="monotone", clip=True).encode(
        x=alt.X("x:Q", scale=xs, axis=xax, title=xtitle), y=alt.Y("a:Q", scale=ys, axis=yax, title=ytitle),
        y2="b:Q", detail="r:N", fill=alt.Fill("c:N", scale=None))
    lines = alt.Chart(ldf).mark_line(interpolate="monotone", color="#222", strokeWidth=.7, strokeDash=[2, 1], opacity=.85, clip=True).encode(
        x=px, y=py, detail="r:N")
    fx = pd.DataFrame({"x": [0, frame_r], "y0": [0, 0], "y1": [10, 10]})
    frame_v = alt.Chart(fx).mark_rule(color="#8a8a8a", strokeWidth=1.5).encode(
        x=px, y=alt.Y("y0:Q", scale=ys, title=ytitle), y2="y1:Q")
    fy = pd.DataFrame({"y": [0, 10], "x0": [0, 0], "x1": [frame_r, frame_r]})
    frame_h = alt.Chart(fy).mark_rule(color="#8a8a8a", strokeWidth=1.5).encode(
        y=py, x=alt.X("x0:Q", scale=xs, title=xtitle), x2="x1:Q")
    mt = pd.DataFrame({"x": MONTHS, "y0": [9.9] * len(MONTHS), "y1": [10] * len(MONTHS)})
    mticks = alt.Chart(mt).mark_rule(color="#8a8a8a", strokeWidth=.8).encode(
        x=px, y=alt.Y("y0:Q", scale=ys, title=ytitle), y2="y1:Q")
    tag = alt.Chart(pd.DataFrame({"x": [name_x], "y": [name_y], "t": [name]})).mark_text(
        font=NARROW, fontWeight="bold", fontSize=35, color="#000").encode(x=px, y=py, text="t:N")
    layers = [areas, lines, frame_v, frame_h, mticks, tag]
    if notes:
        nd = pd.DataFrame({"x": [n[0] for n in notes], "y": [n[1] for n in notes], "t": ["NO DATA"] * len(notes)})
        layers.append(alt.Chart(nd).mark_text(font=FONT, fontSize=15, angle=315, color="#111").encode(x=px, y=py, text="t:N"))
    return alt.layer(*layers).properties(width=946, height=height)


p_e = panel(E_REGIONS, .27, PANEL_NAMES[0], 1.9, 8.75, [-0.15, 48], 10, 219, 48, E_LABEL_POS, E_DEPTH_POS, 6)
p_s = panel(S_REGIONS, .1, PANEL_NAMES[1], 1.95, 9.05, [0, 48.15], 10.18, 222, 48, SN_LABEL_POS, SN_DEPTH_POS, 4, ytitle="Depth [m]", notes=NO_DATA)
p_n = panel(N_REGIONS, .27, PANEL_NAMES[2], 2.0, 8.9, [0, 48.15], 10, 219, 47.9, SN_LABEL_POS, SN_DEPTH_POS, 11, xtitle="Time [mm.yy]")

left = alt.vconcat(p_e, p_s, p_n, spacing=45, bounds="flush")

cb_df = pd.DataFrame({"lo": list(range(-20, 20)), "hi": list(range(-19, 21)), "c": CLASS_COLORS, "x0": [0] * 40, "x1": [1] * 40})
cy = alt.Scale(domain=[-20, 32.6], nice=False, zero=False)
cx = alt.Scale(domain=[0, 1], nice=False)
cb_rect = alt.Chart(cb_df).mark_rect(stroke="#1a1a1a", strokeWidth=1).encode(
    x=alt.X("x0:Q", scale=cx, axis=None), x2="x1:Q",
    y=alt.Y("lo:Q", scale=cy, axis=alt.Axis(orient="right", values=COLORBAR_TICKS, title=None, grid=False, domain=False,
            tickSize=14, tickColor="#333", tickWidth=1.2, labelFont=FONT, labelFontSize=23, labelColor="#333", labelPadding=12, labelExpr="datum.value")),
    y2="hi:Q", fill=alt.Fill("c:N", scale=None))
cb_title = alt.Chart(pd.DataFrame({"x": [.7, .7], "y": [25.6, 22.9], "t": ["Temperature", "[°C]"]})).mark_text(
    font=NARROW, fontWeight="bold", fontSize=25, color="#000").encode(
    x=alt.X("x:Q", scale=cx, axis=None), y=alt.Y("y:Q", scale=cy, title=None), text="t:N")
cbar = alt.layer(cb_rect, cb_title).properties(width=59, height=639)

chart = alt.hconcat(left, cbar, spacing=983, bounds="flush").properties(
    padding={"left": 4, "top": 0, "right": 0, "bottom": 0}, background="white"
).configure_view(stroke="transparent", strokeWidth=0)
chart.save("out.html", embed_options={"renderer": "svg", "actions": False})
